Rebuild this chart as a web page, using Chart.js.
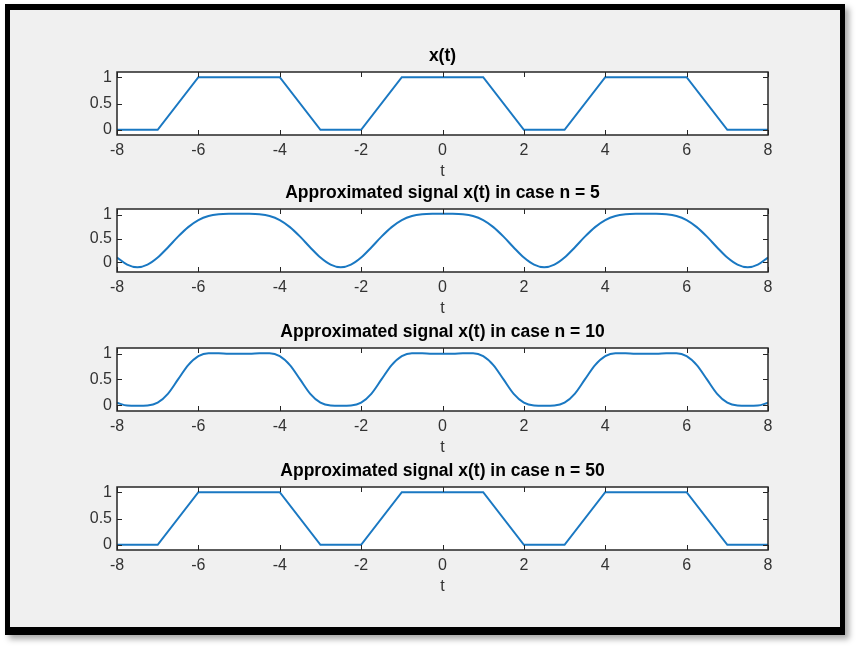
<!DOCTYPE html>
<html>
<head>
<meta charset="utf-8">
<script src="https://cdn.jsdelivr.net/npm/chart.js@4.4.1/dist/chart.umd.min.js"></script>
<style>
  body { margin: 0; background: #fff; width: 859px; height: 647px; position: relative; overflow: hidden; }
  #frame {
    position: absolute; left: 5px; top: 4px; width: 830px; height: 617px;
    border-style: solid; border-color: #000; border-width: 6px 5px 8px 5px;
    background: #f0f0f0; box-shadow: 4px 4px 6px rgba(0, 0, 0, 0.35);
  }
  canvas { position: absolute; left: 10px; }
</style>
</head>
<body>
<div id="frame"></div>
<canvas id="c0" width="830" height="141" style="top:44px"></canvas>
<canvas id="c1" width="830" height="141" style="top:181px"></canvas>
<canvas id="c2" width="830" height="141" style="top:320px"></canvas>
<canvas id="c3" width="830" height="141" style="top:459px"></canvas>
<script>
// trapezoid signal (break points)
const tBreaks = [-8, -7, -6, -4, -3, -2, -1, 1, 2, 3, 4, 6, 7, 8];
const xSignal = [0, 0, 1, 1, 0, 0, 1, 1, 0, 0, 1, 1, 0, 0];
const xN50    = [0, 0, 1, 1, 0, 0, 1, 1, 0, 0, 1, 1, 0, 0];

// smooth approximations, read every 0.25
const tFine = [-8, -7.75, -7.5, -7.25, -7, -6.75, -6.5, -6.25, -6, -5.75, -5.5, -5.25, -5,
  -4.75, -4.5, -4.25, -4, -3.75, -3.5, -3.25, -3, -2.75, -2.5, -2.25, -2, -1.75, -1.5, -1.25,
  -1, -0.75, -0.5, -0.25, 0, 0.25, 0.5, 0.75, 1, 1.25, 1.5, 1.75, 2, 2.25, 2.5, 2.75, 3,
  3.25, 3.5, 3.75, 4, 4.25, 4.5, 4.75, 5, 5.25, 5.5, 5.75, 6, 6.25, 6.5, 6.75, 7, 7.25, 7.5, 7.75, 8];

const xN5 = [0.098, -0.053, -0.108, -0.053, 0.098, 0.311, 0.540, 0.742, 0.890, 0.977, 1.014, 1.024, 1.025, 1.024, 1.014, 0.977, 0.890, 0.742, 0.540, 0.311,
  0.098, -0.053, -0.108, -0.053, 0.098, 0.311, 0.540, 0.742, 0.890, 0.977, 1.014, 1.024, 1.025, 1.024, 1.014, 0.977, 0.890, 0.742, 0.540, 0.311,
  0.098, -0.053, -0.108, -0.053, 0.098, 0.311, 0.540, 0.742, 0.890, 0.977, 1.014, 1.024, 1.025, 1.024, 1.014, 0.977, 0.890, 0.742, 0.540, 0.311,
  0.098, -0.053, -0.108, -0.053, 0.098];

const xN10 = [0.050, -0.005, -0.010, -0.005, 0.050, 0.222, 0.500, 0.777, 0.951, 1.008, 1.005, 0.998, 0.997, 0.998, 1.005, 1.008, 0.951, 0.777, 0.500, 0.222,
  0.050, -0.005, -0.010, -0.005, 0.050, 0.222, 0.500, 0.777, 0.951, 1.008, 1.005, 0.998, 0.997, 0.998, 1.005, 1.008, 0.951, 0.777, 0.500, 0.222,
  0.050, -0.005, -0.010, -0.005, 0.050, 0.222, 0.500, 0.777, 0.951, 1.008, 1.005, 0.998, 0.997, 0.998, 1.005, 1.008, 0.951, 0.777, 0.500, 0.222,
  0.050, -0.005, -0.010, -0.005, 0.050];

const xTicks = [-8, -6, -4, -2, 0, 2, 4, 6, 8];
const yTicks = [0, 0.5, 1];
const titles = ['x(t)', 'Approximated signal x(t) in case n = 5',
  'Approximated signal x(t) in case n = 10', 'Approximated signal x(t) in case n = 50'];
const yLimits = [[-0.1, 1.1], [-0.208, 1.125], [-0.11, 1.108], [-0.1, 1.1]];

const FONT = '"Liberation Sans", Arial, Helvetica, sans-serif';

// white axes background, inward ticks on all four sides and the box
const matlabBox = {
  id: 'matlabBox',
  beforeDraw(chart) {
    const a = chart.chartArea;
    chart.ctx.save();
    chart.ctx.fillStyle = '#fff';
    chart.ctx.fillRect(a.left, a.top, a.width, a.height);
    chart.ctx.restore();
  },
  afterDraw(chart) {
    const {ctx, chartArea: a, scales: {x, y}} = chart;
    ctx.save();
    ctx.strokeStyle = '#262626';
    ctx.lineWidth = 1;
    ctx.beginPath();
    x.ticks.forEach(t => {
      const px = Math.round(x.getPixelForValue(t.value)) + 0.5;
      ctx.moveTo(px, a.bottom); ctx.lineTo(px, a.bottom - 5);
      ctx.moveTo(px, a.top); ctx.lineTo(px, a.top + 5);
    });
    y.ticks.forEach(t => {
      const py = Math.round(y.getPixelForValue(t.value)) + 0.5;
      ctx.moveTo(a.left, py); ctx.lineTo(a.left + 5, py);
      ctx.moveTo(a.right, py); ctx.lineTo(a.right - 5, py);
    });
    ctx.stroke();
    ctx.lineWidth = 1.5;
    ctx.strokeRect(a.left, a.top, a.width, a.height);
    ctx.restore();
  }
};

function makePlot(id, tVals, yVals, title, lim, smooth) {
  const points = tVals.map((t, i) => ({x: t, y: yVals[i]}));
  new Chart(document.getElementById(id), {
    type: 'line',
    data: {
      datasets: [{
        data: points,
        borderColor: '#1a78c2',
        borderWidth: 2,
        pointRadius: 0,
        fill: false,
        cubicInterpolationMode: smooth ? 'monotone' : 'default',
        tension: 0
      }]
    },
    options: {
      responsive: false,
      animation: false,
      layout: { padding: { left: 0, right: 72, top: 0, bottom: 0 } },
      plugins: {
        legend: { display: false },
        tooltip: { enabled: false },
        title: {
          display: true,
          fullSize: false,
          text: title,
          color: '#000',
          font: { family: FONT, size: 17.5, weight: 'bold', lineHeight: 1.2 },
          padding: { top: 2, bottom: 5 }
        }
      },
      scales: {
        x: {
          type: 'linear',
          min: -8,
          max: 8,
          afterBuildTicks: s => { s.ticks = xTicks.map(v => ({value: v})); },
          afterFit: s => { s.height = 50; },
          grid: { display: false, drawTicks: false },
          border: { display: false },
          ticks: { color: '#333', padding: 6, autoSkip: false, maxRotation: 0,
                   callback: v => String(v),
                   font: { family: FONT, size: 16, lineHeight: 1.2 } },
          title: { display: true, text: 't', color: '#333',
                   font: { family: FONT, size: 16, lineHeight: 1.2 },
                   padding: { top: 0, bottom: 4 } }
        },
        y: {
          min: lim[0],
          max: lim[1],
          afterBuildTicks: s => { s.ticks = yTicks.map(v => ({value: v})); },
          afterFit: s => { s.width = 107; },
          grid: { display: false, drawTicks: false },
          border: { display: false },
          ticks: { color: '#333', padding: 5,
                   callback: v => String(v),
                   font: { family: FONT, size: 16, lineHeight: 1.2 } }
        }
      }
    },
    plugins: [matlabBox]
  });
}

makePlot('c0', tBreaks, xSignal, titles[0], yLimits[0], false);
makePlot('c1', tFine, xN5, titles[1], yLimits[1], true);
makePlot('c2', tFine, xN10, titles[2], yLimits[2], true);
makePlot('c3', tBreaks, xN50, titles[3], yLimits[3], false);
</script>
</body>
</html>
